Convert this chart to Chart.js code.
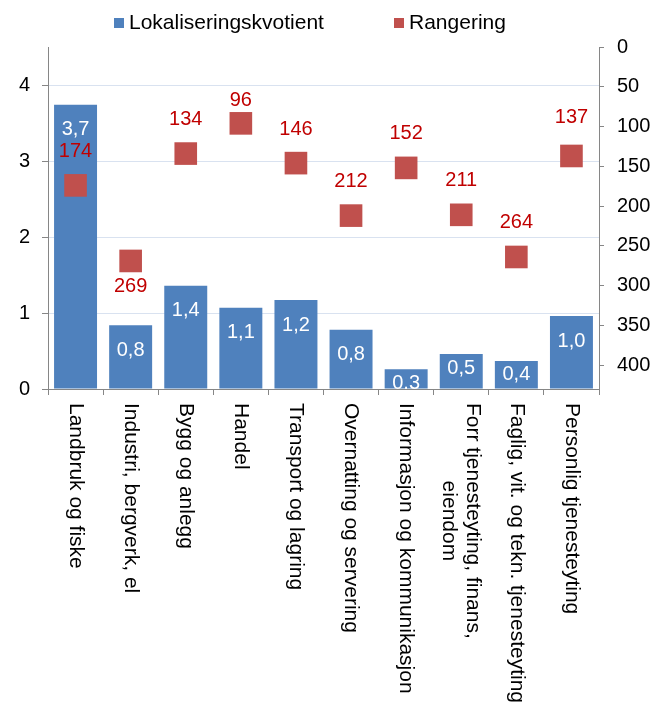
<!DOCTYPE html>
<html><head><meta charset="utf-8">
<script src="https://cdn.jsdelivr.net/npm/chart.js@4.4.1/dist/chart.umd.min.js"></script>
<style>html,body{margin:0;padding:0;background:#fff;}#wrap{width:665px;height:705px;position:relative;}</style>
</head><body><div id="wrap"><canvas id="c"></canvas></div>
<script>
const categories = ['Landbruk og fiske','Industri, bergverk, el','Bygg og anlegg','Handel','Transport og lagring','Overnatting og servering','Informasjon og kommunikasjon',['Forr tjenesteyting, finans,','eiendom'],'Faglig, vit. og tekn. tjenesteyting','Personlig tjenesteyting'];
const kvotient = [3.74,0.84,1.36,1.07,1.17,0.78,0.26,0.46,0.37,0.96];
const rangering = [174,269,134,96,146,212,152,211,264,137];
const leftTicks = [0,1,2,3,4];
const rightTicks = [0,50,100,150,200,250,300,350,400];

const FONT = "'Liberation Sans', Arial, sans-serif";
Chart.defaults.font.family = FONT;
Chart.defaults.font.size = 20;
Chart.defaults.color = '#000';

const valueLabels = {
  id: 'valueLabels',
  afterDatasetsDraw(chart, args, opts) {
    const ctx = chart.ctx, a = chart.chartArea;
    ctx.save();
    ctx.font = '20px ' + FONT;
    ctx.textAlign = 'center'; ctx.textBaseline = 'middle';
    ctx.save();
    ctx.beginPath(); ctx.rect(a.left, a.top, a.right - a.left, a.bottom - a.top); ctx.clip();
    ctx.fillStyle = '#ffffff';
    chart.getDatasetMeta(0).data.forEach((el, i) => {
      const h = el.base - el.y;
      const off = h > 50 ? 25 : 14;
      ctx.fillText(kvotient[i].toFixed(1).replace('.', ','), el.x, el.y + off);
    });
    ctx.restore();
    ctx.fillStyle = '#c00000';
    chart.getDatasetMeta(1).data.forEach((el, i) => {
      ctx.fillText(String(rangering[i]), el.x, el.y + opts.offsets[i]);
    });
    ctx.restore();
  }
};

const xLabels = {
  id: 'xLabels',
  afterDraw(chart) {
    const xs = chart.scales.x, ctx = chart.ctx;
    ctx.save();
    ctx.font = '21px ' + FONT; ctx.fillStyle = '#000';
    ctx.textBaseline = 'middle'; ctx.textAlign = 'center';
    chart.data.labels.forEach((lab, i) => {
      const lines = Array.isArray(lab) ? lab : [lab];
      const w = Math.max(...lines.map(l => ctx.measureText(l).width));
      const x = xs.getPixelForTick(i);
      ctx.save();
      ctx.translate(x, xs.top + 14);
      ctx.rotate(Math.PI / 2);
      lines.forEach((l, j) => ctx.fillText(l, w / 2, (j - (lines.length - 1) / 2) * 24));
      ctx.restore();
    });
    ctx.restore();
  }
};

const customLegend = {
  id: 'customLegend',
  afterDraw(chart, args, opts) {
    const ctx = chart.ctx;
    ctx.save();
    ctx.font = '21px ' + FONT; ctx.textBaseline = 'middle'; ctx.textAlign = 'left';
    chart.data.datasets.forEach((ds, k) => {
      const it = opts.items[k];
      ctx.fillStyle = ds.backgroundColor;
      ctx.fillRect(it.box, 18, 10, 10);
      ctx.fillStyle = '#000';
      ctx.fillText(ds.label, it.text, 23);
    });
    ctx.restore();
  }
};

new Chart(document.getElementById('c'), {
  type: 'bar',
  data: {
    labels: categories,
    datasets: [
      { type: 'bar', label: 'Lokaliseringskvotient', data: kvotient, yAxisID: 'y',
        backgroundColor: '#4f81bd', barPercentage: 0.78, categoryPercentage: 1.0, order: 1 },
      { type: 'line', label: 'Rangering', data: rangering, yAxisID: 'y1', showLine: false,
        pointStyle: 'rect', pointRadius: 16, pointHoverRadius: 16,
        backgroundColor: '#c0504d', borderColor: '#c0504d', borderWidth: 0, order: 0 }
    ]
  },
  options: {
    responsive: true, maintainAspectRatio: false, animation: false, events: [],
    layout: { padding: { top: 47, left: 0, right: 0, bottom: 0 } },
    plugins: {
      legend: { display: false }, tooltip: { enabled: false },
      valueLabels: { offsets: [-34, 26, -34, -23, -34, -34, -34, -34, -34, -38] },
      customLegend: { items: [{ box: 114, text: 129 }, { box: 394, text: 409 }] }
    },
    scales: {
      x: {
        offset: true,
        grid: { display: true, offset: true, drawOnChartArea: false, drawTicks: true, tickLength: 6, tickColor: '#868686' },
        border: { color: '#868686' },
        ticks: { display: false },
        afterFit(s) { s.height = 316; }
      },
      y: {
        position: 'left', min: 0, max: 4.5,
        afterBuildTicks(s) { s.ticks = leftTicks.map(v => ({ value: v })); },
        ticks: { padding: 12, color: '#000', font: { size: 20 } },
        grid: { color: c => (c.tick && c.tick.value === 0) ? 'rgba(0,0,0,0)' : '#d9e2f0', tickColor: '#868686', tickLength: 6 },
        border: { color: '#868686' },
        afterFit(s) { s.width = 48; }
      },
      y1: {
        position: 'right', min: 0, max: 430, reverse: true,
        afterBuildTicks(s) { s.ticks = rightTicks.map(v => ({ value: v })); },
        ticks: { padding: 13, color: '#000', font: { size: 20 } },
        grid: { drawOnChartArea: false, tickColor: '#868686', tickLength: 5 },
        border: { color: '#868686' },
        afterFit(s) { s.width = 66; }
      }
    }
  },
  plugins: [valueLabels, xLabels, customLegend]
});
</script></body></html>
